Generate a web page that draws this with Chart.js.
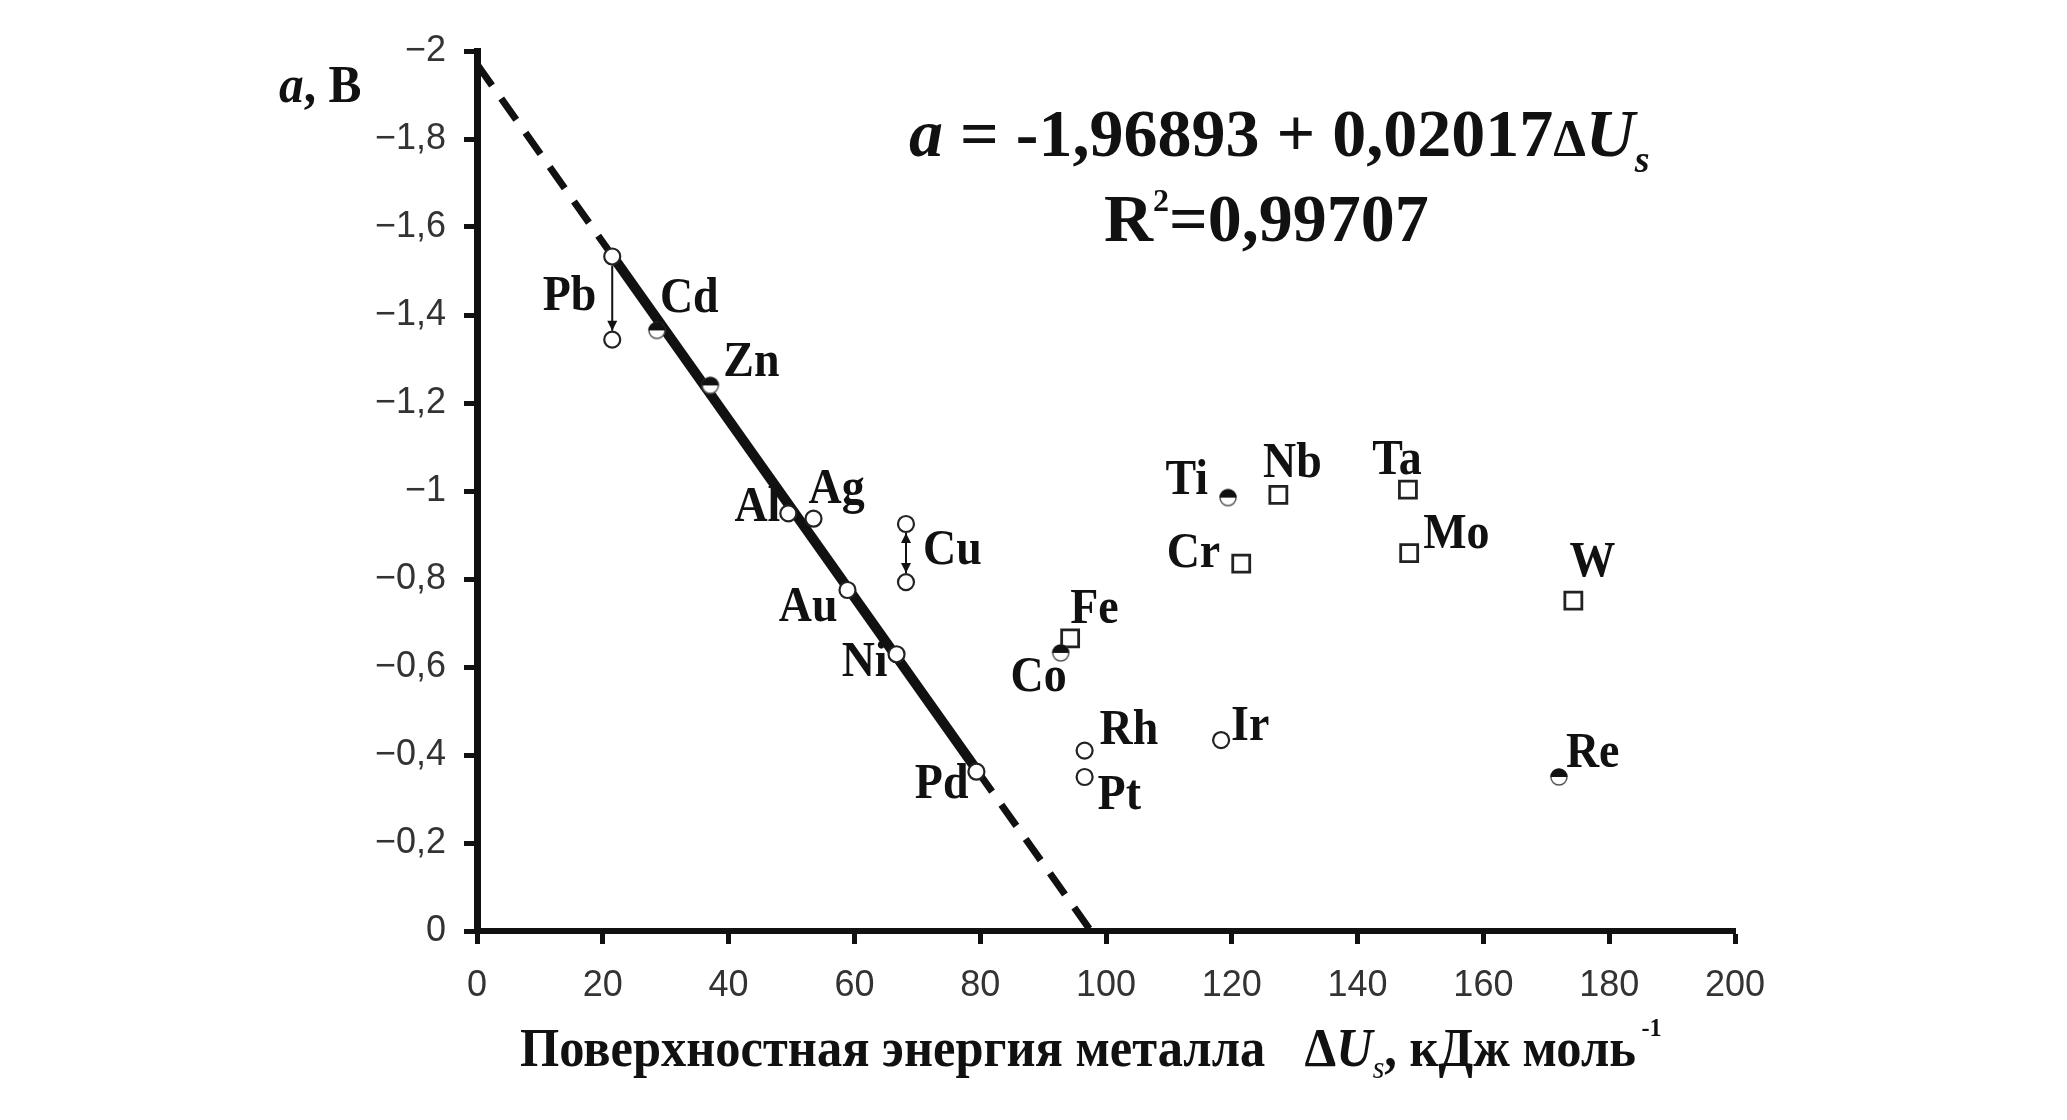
<!DOCTYPE html>
<html lang="ru">
<head>
<meta charset="UTF-8">
<title>a vs ΔUs</title>
<script src="https://cdn.jsdelivr.net/npm/chart.js"></script>
<style>
    body { margin: 0; background: #fff; }
    .wrap { width: 2067px; height: 1120px; position: relative; }
</style>
</head>
<body>
<div class="wrap"><canvas id="chart"></canvas></div>
<script>
// metals drawn as open circles (Pb and Cu have two values each)
const openNames = ['Pb', 'Pb', 'Al', 'Ag', 'Au', 'Ni', 'Pd', 'Cu', 'Cu', 'Rh', 'Pt', 'Ir'];
const openX = [21.5, 21.5, 49.5, 53.5, 58.9, 66.7, 79.4, 68.2, 68.2, 96.6, 96.6, 118.3];
const openY = [-1.533, -1.344, -0.949, -0.937, -0.775, -0.629, -0.362, -0.925, -0.793, -0.41, -0.35, -0.434];

// half-filled circles
const halfNames = ['Cd', 'Zn', 'Co', 'Ti', 'Re'];
const halfX = [28.6, 37.1, 92.8, 119.4, 172.0];
const halfY = [-1.365, -1.24, -0.632, -0.985, -0.35];

// open squares
const squareNames = ['Fe', 'Nb', 'Ta', 'Mo', 'Cr', 'W'];
const squareX = [94.3, 127.4, 148.0, 148.2, 121.5, 174.3];
const squareY = [-0.665, -0.991, -1.003, -0.859, -0.835, -0.751];

// fitted line a = -1,96893 + 0,02017 dUs
const fitSolidX = [21.5, 79.5];
const fitSolidY = [-1.535, -0.365];
const fitTopX = [0, 21.5];
const fitTopY = [-1.97, -1.535];
const fitBottomX = [79.5, 97.6];
const fitBottomY = [-0.365, 0];

const xTicks = [0, 20, 40, 60, 80, 100, 120, 140, 160, 180, 200];
const yTicks = [-2, -1.8, -1.6, -1.4, -1.2, -1, -0.8, -0.6, -0.4, -0.2, 0];

// label placement: [dx, dy, align] from the point in pixels
const labelPos = {
    Pb: [-16, -43, 'right'], Cd: [3, -32, 'left'], Zn: [13, -23, 'left'],
    Al: [-8, -6, 'right'], Ag: [-5, -29, 'left'], Au: [-10, 18, 'right'],
    Ni: [-9, 9, 'right'], Pd: [-8, 13, 'right'], Cu: [17, -31, 'left'],
    Fe: [0, -29, 'left'], Co: [6, 25, 'right'], Rh: [15, -20, 'left'],
    Pt: [13, 19, 'left'], Ir: [10, -13, 'left'], Ti: [-20, -17, 'right'],
    Nb: [14, -31, 'center'], Ta: [-11, -29, 'center'], Mo: [14, -18, 'left'],
    Cr: [-21, -10, 'right'], W: [19, -38, 'center'], Re: [7, -23, 'left']
};

const SERIF = '"Liberation Serif", "Times New Roman", serif';
const SANS = '"Liberation Sans", Arial, sans-serif';

function pts(xs, ys) {
    return xs.map((x, i) => ({ x: x, y: ys[i] }));
}

// half filled marker (top black, bottom white)
function halfMarker(r) {
    const c = document.createElement('canvas');
    const s = 2 * r + 4;
    c.width = s; c.height = s;
    const g = c.getContext('2d');
    g.beginPath(); g.arc(s / 2, s / 2, r, 0, Math.PI * 2);
    g.fillStyle = '#fff'; g.fill();
    g.lineWidth = 1.5; g.strokeStyle = '#555'; g.stroke();
    g.beginPath(); g.arc(s / 2, s / 2, r + 0.5, Math.PI, 0);
    g.closePath(); g.fillStyle = '#111'; g.fill();
    return c;
}

// draws text pieces one after another, squeezed a bit horizontally like the original
function drawRuns(ctx, x, y, runs, sx) {
    ctx.save();
    ctx.translate(x, y);
    ctx.scale(sx, 1);
    let cx = 0;
    runs.forEach(r => {
        ctx.font = r.f;
        ctx.fillText(r.t, cx, r.dy || 0);
        cx += ctx.measureText(r.t).width + (r.gap || 0);
    });
    ctx.restore();
}

function arrowHead(ctx, x, y, dir) {
    ctx.beginPath();
    ctx.moveTo(x, y);
    ctx.lineTo(x - 5, y - dir * 10);
    ctx.lineTo(x + 5, y - dir * 10);
    ctx.closePath();
    ctx.fill();
}

const annotations = {
    id: 'annotations',
    afterDatasetsDraw(chart) {
        const ctx = chart.ctx;
        const xs = chart.scales.x, ys = chart.scales.y;
        ctx.save();
        ctx.fillStyle = '#111';
        ctx.strokeStyle = '#111';

        // arrows between paired values
        [['Pb', false], ['Cu', true]].forEach(([name, both]) => {
            const idx = openNames.map((n, i) => n === name ? i : -1).filter(i => i >= 0);
            const px = xs.getPixelForValue(openX[idx[0]]);
            const y1 = ys.getPixelForValue(openY[idx[0]]) + 9;
            const y2 = ys.getPixelForValue(openY[idx[1]]) - 9;
            ctx.lineWidth = 2;
            ctx.beginPath(); ctx.moveTo(px, y1); ctx.lineTo(px, y2); ctx.stroke();
            arrowHead(ctx, px, y2, 1);
            if (both) arrowHead(ctx, px, y1, -1);
        });

        // element labels
        ctx.textBaseline = 'middle';
        const groups = [[openNames, openX, openY], [halfNames, halfX, halfY], [squareNames, squareX, squareY]];
        const done = {};
        groups.forEach(([names, gx, gy]) => {
            for (let i = names.length - 1; i >= 0; i--) {
                const n = names[i];
                if (done[n]) continue;
                done[n] = true;
                const p = labelPos[n];
                ctx.save();
                ctx.translate(xs.getPixelForValue(gx[i]) + p[0], ys.getPixelForValue(gy[i]) + p[1]);
                ctx.scale(0.9, 1);
                ctx.font = 'bold 51px ' + SERIF;
                ctx.textAlign = p[2];
                ctx.fillText(n, 0, 0);
                ctx.restore();
            }
        });

        ctx.textAlign = 'left';
        ctx.textBaseline = 'alphabetic';

        // y axis title
        drawRuns(ctx, 279, 102, [
            { t: 'a', f: 'italic bold 52px ' + SERIF },
            { t: ', B', f: 'bold 52px ' + SERIF }
        ], 0.95);

        // equation
        drawRuns(ctx, 909, 156, [
            { t: 'a', f: 'italic bold 68px ' + SERIF },
            { t: ' = -1,96893 + 0,02017', f: 'bold 68px ' + SERIF },
            { t: 'Δ', f: 'bold 52px ' + SERIF },
            { t: 'U', f: 'italic bold 68px ' + SERIF },
            { t: 's', f: 'italic bold 38px ' + SERIF, dy: 16 }
        ], 1.0);
        drawRuns(ctx, 1104, 241, [
            { t: 'R', f: 'bold 68px ' + SERIF },
            { t: '2', f: 'bold 32px ' + SERIF, dy: -30 },
            { t: '=0,99707', f: 'bold 68px ' + SERIF }
        ], 1.0);

        // x axis title
        drawRuns(ctx, 520, 1066, [
            { t: 'Поверхностная энергия металла', f: 'bold 54px ' + SERIF, gap: 42 },
            { t: 'Δ', f: 'bold 54px ' + SERIF },
            { t: 'U', f: 'italic bold 54px ' + SERIF },
            { t: 's', f: 'italic 32px ' + SERIF, dy: 12 },
            { t: ', кДж моль', f: 'bold 54px ' + SERIF, gap: 6 },
            { t: '-1', f: 'bold 26px ' + SERIF, dy: -30 }
        ], 0.935);
        ctx.restore();
    }
};

const axisGrid = { drawOnChartArea: false, drawTicks: true, tickLength: 13, tickWidth: 5, tickColor: '#111' };

new Chart(document.getElementById('chart'), {
    type: 'scatter',
    data: {
        datasets: [
            {
                label: 'fit', type: 'line', data: pts(fitSolidX, fitSolidY),
                borderColor: '#111', borderWidth: 10, pointRadius: 0, order: 3
            },
            {
                label: 'fit extension', type: 'line', data: pts(fitTopX, fitTopY),
                borderColor: '#111', borderWidth: 7, borderDash: [26, 16], pointRadius: 0, order: 3
            },
            {
                label: 'fit extension 2', type: 'line', data: pts(fitBottomX, fitBottomY),
                borderColor: '#111', borderWidth: 7, borderDash: [26, 16], pointRadius: 0, order: 3
            },
            {
                label: 'open', data: pts(openX, openY),
                pointStyle: 'circle', pointRadius: 8, pointBorderWidth: 2.2,
                pointBackgroundColor: '#fff', pointBorderColor: '#222', order: 1
            },
            {
                label: 'half', data: pts(halfX, halfY),
                pointStyle: halfMarker(8), order: 1
            },
            {
                label: 'square', data: pts(squareX, squareY),
                pointStyle: 'rect', pointRadius: 12, pointBorderWidth: 2.8,
                pointBackgroundColor: '#fff', pointBorderColor: '#222', order: 1
            }
        ]
    },
    options: {
        responsive: true,
        maintainAspectRatio: false,
        animation: false,
        events: [],
        layout: { padding: { top: 51, right: 332, left: 0, bottom: 0 } },
        plugins: { legend: { display: false }, tooltip: { enabled: false } },
        scales: {
            x: {
                type: 'linear', min: 0, max: 200,
                afterBuildTicks: s => { s.ticks = xTicks.map(v => ({ value: v })); },
                afterFit: s => { s.height = 189; },
                border: { display: true, width: 6, color: '#111' },
                grid: axisGrid,
                ticks: { color: '#333', padding: 20, font: { family: SANS, size: 36 } }
            },
            y: {
                type: 'linear', min: -2, max: 0, reverse: true,
                afterBuildTicks: s => { s.ticks = yTicks.map(v => ({ value: v })); },
                afterFit: s => { s.width = 477; },
                border: { display: true, width: 7, color: '#111' },
                grid: axisGrid,
                ticks: {
                    color: '#333', padding: 18, font: { family: SANS, size: 36 },
                    callback: v => v === 0 ? '0' : '\u2212' + String(Number(Math.abs(v).toFixed(1))).replace('.', ',')
                }
            }
        }
    },
    plugins: [annotations]
});
</script>
</body>
</html>
